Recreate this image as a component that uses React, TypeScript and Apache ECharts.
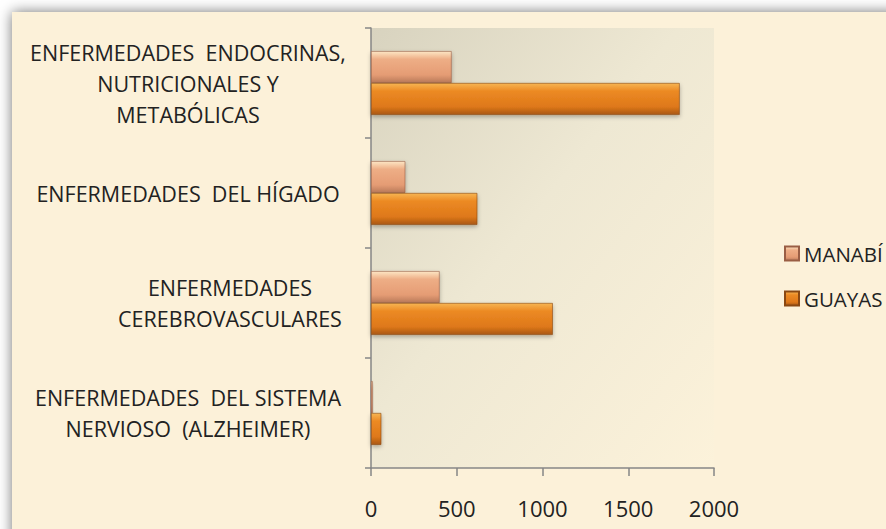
import React, { useEffect, useRef } from "react";
import * as echarts from "echarts";

const categories = [
  "ENFERMEDADES  ENDOCRINAS,\nNUTRICIONALES Y\nMETABÓLICAS",
  "ENFERMEDADES  DEL HÍGADO",
  "ENFERMEDADES\nCEREBROVASCULARES",
  "ENFERMEDADES  DEL SISTEMA\nNERVIOSO  (ALZHEIMER)",
];
const manabi = [470, 200, 400, 10];
const guayas = [1800, 620, 1060, 60];
const seriesNames = ["MANABÍ", "GUAYAS"];
const xTicks = { min: 0, max: 2000, interval: 500 };

const FONT = "'Open Sans', 'Liberation Sans', sans-serif";

export default function App() {
  const ref = useRef<HTMLDivElement>(null);
  useEffect(() => {
    document.body.style.margin = "0";
    const chart = echarts.init(ref.current!, undefined, { renderer: "svg" });
    const lg = echarts.graphic.LinearGradient;
    const guayasColor = new lg(0, 0, 0, 1, [
      { offset: 0, color: "#f7b552" },
      { offset: 0.25, color: "#ec8a24" },
      { offset: 0.75, color: "#de781a" },
      { offset: 1, color: "#a95816" },
    ]);
    const manabiColor = new lg(0, 0, 0, 1, [
      { offset: 0, color: "#fde6c4" },
      { offset: 0.25, color: "#eeae86" },
      { offset: 0.75, color: "#e59c74" },
      { offset: 1, color: "#b97a5a" },
    ]);
    const labelFont = { fontFamily: FONT, fontSize: 21.5, color: "#222", lineHeight: 31 };
    chart.setOption({
      animation: false,
      backgroundColor: "#ffffff",
      graphic: [
        {
          type: "rect",
          z: -10,
          shape: { x: 12, y: 12, width: 900, height: 560 },
          style: {
            fill: "#fcf1d9",
            shadowBlur: 14,
            shadowColor: "rgba(0,0,0,0.55)",
            shadowOffsetX: 0,
            shadowOffsetY: 0,
          },
          silent: true,
        },
      ],
      grid: {
        left: 371,
        right: 172,
        top: 28,
        bottom: 61,
        outerBoundsMode: "none",
        containLabel: false,
        show: true,
        borderWidth: 0,
        backgroundColor: new lg(0, 0, 1, 1, [
          { offset: 0, color: "#d8d3bf" },
          { offset: 0.45, color: "#eee8d3" },
          { offset: 1, color: "#fcf2da" },
        ]),
      },
      legend: {
        orient: "vertical",
        left: 779,
        top: 238,
        itemWidth: 14,
        itemHeight: 14,
        itemGap: 24,
        icon: "rect",
        data: ["MANABÍ", "GUAYAS"],
        textStyle: {
          fontFamily: FONT,
          fontSize: 20.5,
          color: "#222",
        },
      },
      xAxis: {
        type: "value",
        min: xTicks.min,
        max: xTicks.max,
        interval: xTicks.interval,
        splitLine: { show: false },
        axisLine: { show: true, lineStyle: { color: "#868686", width: 1.5 } },
        axisTick: { show: true, length: 8, lineStyle: { color: "#868686", width: 1.5 } },
        axisLabel: {
          fontFamily: FONT,
          fontSize: 22,
          color: "#222",
          margin: 29,
          formatter: (v: number) => String(v),
        },
      },
      yAxis: {
        type: "category",
        inverse: true,
        data: categories,
        axisLine: { show: true, lineStyle: { color: "#868686", width: 1.5 } },
        axisTick: { show: true, length: 6, lineStyle: { color: "#868686", width: 1.5 } },
        axisLabel: {
          ...labelFont,
          align: "center",
          margin: 183,
          formatter: (v: string) =>
            v === categories[2]
              ? v
                  .split("\n")
                  .map((line) => "{sp| }{t|" + line + "}")
                  .join("\n")
              : v,
          rich: {
            sp: { ...labelFont, width: 84 },
            t: { ...labelFont },
          },
        },
      },
      series: [
        {
          name: seriesNames[0],
          type: "bar",
          data: manabi,
          barGap: "0%",
          barCategoryGap: "42%",
          itemStyle: {
            color: manabiColor,
            borderColor: "#9a5e44",
            borderWidth: 0.6,
            shadowBlur: 4,
            shadowColor: "rgba(0,0,0,0.3)",
            shadowOffsetY: 2,
          },
        },
        {
          name: seriesNames[1],
          type: "bar",
          data: guayas,
          barGap: "0%",
          barCategoryGap: "42%",
          itemStyle: {
            color: guayasColor,
            borderColor: "#8a4812",
            borderWidth: 0.6,
            shadowBlur: 4,
            shadowColor: "rgba(0,0,0,0.3)",
            shadowOffsetY: 2,
          },
        },
      ],
    });
    return () => chart.dispose();
  }, []);
  return <div ref={ref} style={{ width: 886, height: 529 }} />;
}
